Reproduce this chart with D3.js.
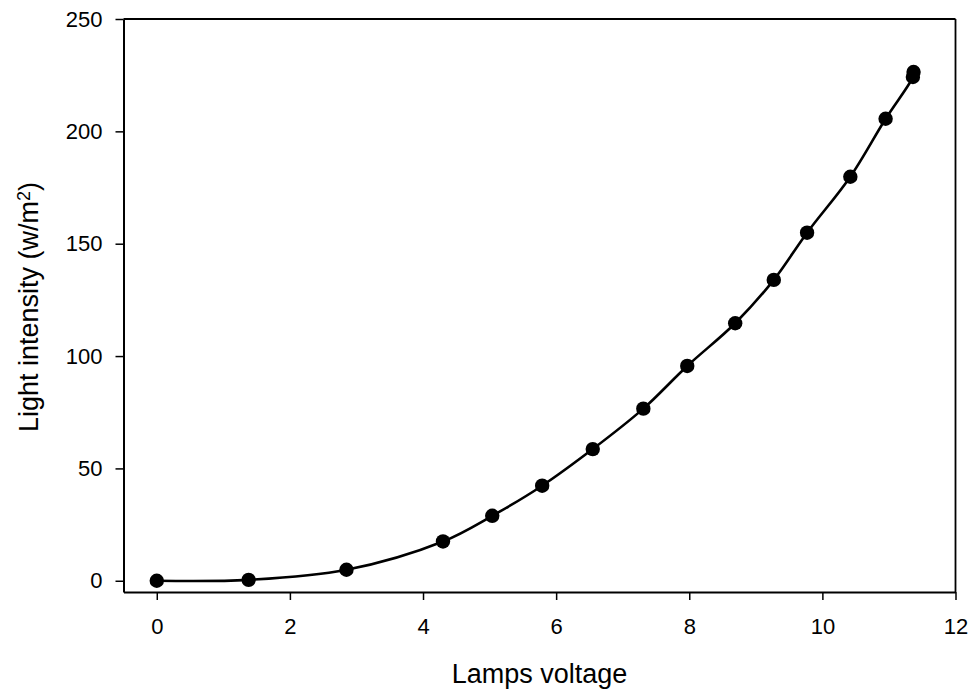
<!DOCTYPE html>
<html>
<head>
<meta charset="utf-8">
<script src="https://cdn.jsdelivr.net/npm/d3@7"></script>
<style>
  body { margin: 0; background: #fff; }
  text { font-family: Arial, "Liberation Sans", sans-serif; fill: #000; }
</style>
</head>
<body>
<script>
/* data */
var voltage   = [0, 1.38, 2.85, 4.30, 5.04, 5.79, 6.55, 7.31, 7.97, 8.69, 9.27, 9.77, 10.42, 10.95, 11.36, 11.37];
var intensity = [0, 0.4, 4.9, 17.5, 28.9, 42.3, 58.6, 76.6, 95.6, 114.6, 133.9, 154.9, 179.8, 205.6, 224.2, 226.4];
var xTicks = [0, 2, 4, 6, 8, 10, 12];
var yTicks = [0, 50, 100, 150, 200, 250];

var data = voltage.map(function (v, i) { return { x: v, y: intensity[i] }; });

var W = 973, H = 690;
var margin = { left: 123.5, top: 19, right: 17.5, bottom: 98 };
var width = W - margin.left - margin.right,
    height = H - margin.top - margin.bottom;

var svg = d3.select("body").append("svg")
    .attr("width", W)
    .attr("height", H);

var g = svg.append("g")
    .attr("transform", "translate(" + margin.left + "," + margin.top + ")");

var x = d3.scaleLinear().domain([-0.5, 12]).range([0, width]);
var y = d3.scaleLinear().domain([-5, 250]).range([height, 0]);

/* axes */
var xAxis = g.append("g")
    .attr("transform", "translate(0," + height + ")")
    .call(d3.axisBottom(x).tickValues(xTicks).tickSizeInner(8).tickSizeOuter(0).tickPadding(18));
var yAxis = g.append("g")
    .call(d3.axisLeft(y).tickValues(yTicks).tickSizeInner(8).tickSizeOuter(0).tickPadding(13));

[xAxis, yAxis].forEach(function (a) {
  a.selectAll("text").style("font-size", "22px").style("font-family", "Arial, 'Liberation Sans', sans-serif");
  a.selectAll("line").attr("stroke-width", 1.5);
  a.select(".domain").attr("stroke-width", 2);
});

/* frame top and right */
g.append("line").attr("x1", 0).attr("x2", width).attr("y1", 0).attr("y2", 0)
  .attr("stroke", "#000").attr("stroke-width", 2);
g.append("line").attr("x1", width).attr("x2", width).attr("y1", 0).attr("y2", height)
  .attr("stroke", "#000").attr("stroke-width", 1.8);

/* curve */
var line = d3.line()
    .x(function (d) { return x(d.x); })
    .y(function (d) { return y(d.y); })
    .curve(d3.curveCatmullRom.alpha(0.5));

g.append("path")
    .datum(data)
    .attr("fill", "none")
    .attr("stroke", "#000")
    .attr("stroke-width", 2.6)
    .attr("d", line);

/* points */
g.selectAll("circle.pt")
    .data(data)
  .enter().append("circle")
    .attr("class", "pt")
    .attr("cx", function (d) { return x(d.x); })
    .attr("cy", function (d) { return y(d.y); })
    .attr("r", 7.2)
    .attr("fill", "#000");

/* axis titles */
svg.append("text")
    .attr("x", margin.left + width / 2)
    .attr("y", 683)
    .attr("text-anchor", "middle")
    .style("font-size", "27px")
    .text("Lamps voltage");

var yt = svg.append("text")
    .attr("transform", "translate(38," + 307 + ") rotate(-90)")
    .attr("text-anchor", "middle")
    .style("font-size", "27px");
yt.append("tspan").text("Light intensity (w/m");
yt.append("tspan").attr("dy", "-0.45em").style("font-size", "18px").text("2");
yt.append("tspan").attr("dy", "0.3em").text(")");
</script>
</body>
</html>
